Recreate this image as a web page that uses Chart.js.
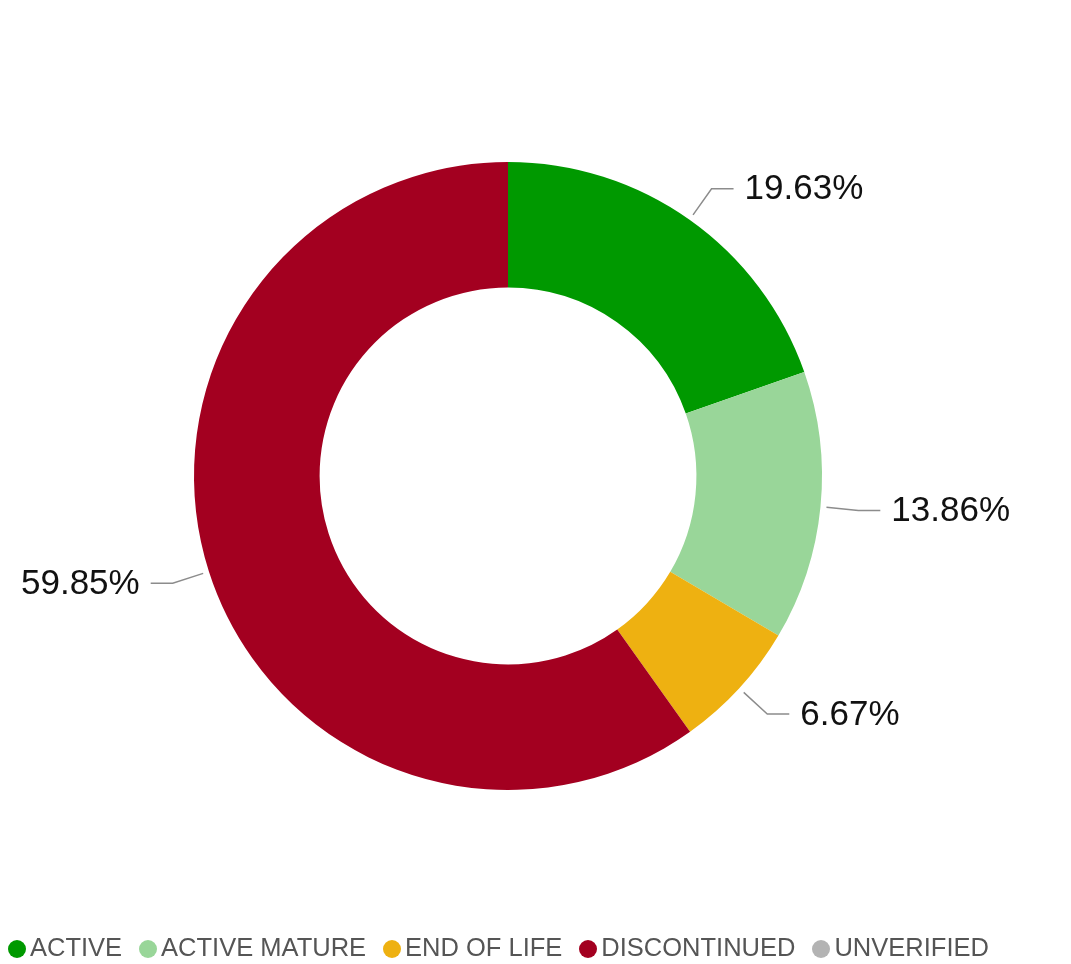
<!DOCTYPE html>
<html>
<head>
<meta charset="utf-8">
<script src="https://cdn.jsdelivr.net/npm/chart.js@4"></script>
<style>
    html, body { margin: 0; padding: 0; background: #fff; }
    #wrap { position: relative; width: 1071px; height: 964px; overflow: hidden; }
    #statusChart { position: absolute; left: 0; top: 0; }
    #legend {
        position: absolute; left: 8px; top: 933px;
        display: flex; align-items: center;
        font-family: "Liberation Sans", Arial, sans-serif; font-size: 25.5px; color: #555;
        white-space: nowrap;
    }
    .item { display: flex; align-items: center; margin-right: 17px; }
    .dot { width: 18px; height: 18px; border-radius: 50%; margin-right: 4px; margin-top: 3px; }
</style>
</head>
<body>
<div id="wrap">
    <canvas id="statusChart" width="1071" height="964"></canvas>
    <div id="legend"></div>
</div>
<script>
// Durum kategorileri ve yüzdeleri
const statusLabels = ['ACTIVE', 'ACTIVE MATURE', 'END OF LIFE', 'DISCONTINUED', 'UNVERIFIED'];
const statusValues = [19.63, 13.86, 6.67, 59.85, 0];
const statusColors = ['#009900', '#99d699', '#eeb111', '#a30020', '#b3b3b3'];

// Dilimlerin dışına çizgili yüzde etiketleri
const outsideLabels = {
    id: 'outsideLabels',
    afterDatasetsDraw(chart) {
        const ctx = chart.ctx;
        const meta = chart.getDatasetMeta(0);
        ctx.save();
        ctx.font = '35px "Liberation Sans", Arial, sans-serif';
        ctx.textBaseline = 'middle';
        meta.data.forEach((arc, i) => {
            const value = statusValues[i];
            if (!value) return;
            const p = arc.getProps(['x', 'y', 'startAngle', 'endAngle', 'outerRadius'], true);
            const mid = (p.startAngle + p.endAngle) / 2;
            const cos = Math.cos(mid), sin = Math.sin(mid);
            const x1 = p.x + cos * (p.outerRadius + 6);
            const y1 = p.y + sin * (p.outerRadius + 6);
            const x2 = p.x + cos * (p.outerRadius + 38);
            const y2 = p.y + sin * (p.outerRadius + 38);
            const right = cos >= 0;
            const x3 = x2 + (right ? 22 : -22);
            ctx.strokeStyle = '#8c8c8c';
            ctx.lineWidth = 1.5;
            ctx.beginPath();
            ctx.moveTo(x1, y1);
            ctx.lineTo(x2, y2);
            ctx.lineTo(x3, y2);
            ctx.stroke();
            ctx.fillStyle = '#111';
            ctx.textAlign = right ? 'left' : 'right';
            ctx.fillText(value.toFixed(2) + '%', x3 + (right ? 11 : -11), y2 + 1);
        });
        ctx.restore();
    }
};

const ctx = document.getElementById('statusChart').getContext('2d');
const statusChart = new Chart(ctx, {
    type: 'doughnut',
    data: {
        labels: statusLabels,
        datasets: [{
            data: statusValues,
            backgroundColor: statusColors,
            borderWidth: 0
        }]
    },
    options: {
        responsive: false,
        animation: false,
        cutout: '60%',
        layout: {
            padding: { top: 162, bottom: 174, left: 0, right: 55 }
        },
        plugins: {
            legend: { display: false },
            tooltip: { enabled: false }
        }
    },
    plugins: [outsideLabels]
});

// Alt kısımdaki lejant
const legendEl = document.getElementById('legend');
statusLabels.forEach((label, i) => {
    const item = document.createElement('div');
    item.className = 'item';
    const dot = document.createElement('span');
    dot.className = 'dot';
    dot.style.background = statusColors[i];
    const text = document.createElement('span');
    text.textContent = label;
    item.appendChild(dot);
    item.appendChild(text);
    legendEl.appendChild(item);
});
</script>
</body>
</html>
